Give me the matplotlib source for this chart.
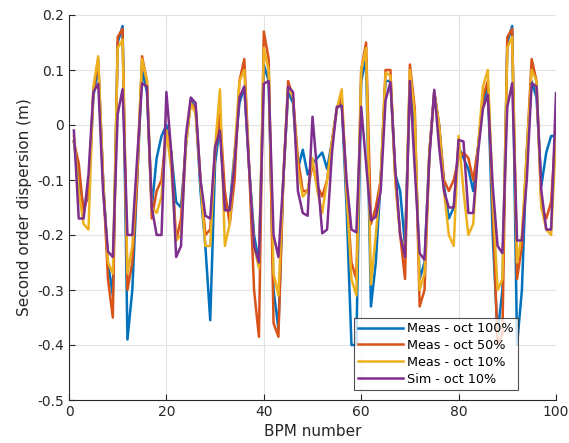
import matplotlib
matplotlib.use("Agg")
import matplotlib.pyplot as plt

plt.rcParams['axes.unicode_minus'] = False
plt.rcParams['font.family'] = 'DejaVu Sans'

bpm = list(range(1, 101))

meas_100 = [-0.03, -0.1, -0.15, -0.13, 0.05, 0.11, -0.1, -0.25, -0.31, 0.15,
            0.18, -0.39, -0.3, -0.1, 0.1, 0.06, -0.15, -0.06, -0.02, 0.0,
            -0.05, -0.14, -0.15, -0.04, 0.045, 0.03, -0.12, -0.22, -0.355, -0.07,
            0.0, -0.15, -0.15, -0.05, 0.04, 0.07, -0.08, -0.2, -0.25, 0.11,
            0.08, -0.3, -0.37, -0.1, 0.06, 0.04, -0.08, -0.045, -0.09, -0.07,
            -0.06, -0.05, -0.08, -0.03, 0.03, 0.04, -0.15, -0.4, -0.4, 0.08,
            0.12, -0.33, -0.25, -0.1, 0.08, 0.08, -0.09, -0.12, -0.22, 0.08,
            0.0, -0.28, -0.25, -0.05, 0.06, 0.0, -0.11, -0.17, -0.15, -0.04,
            -0.06, -0.08, -0.12, -0.04, 0.04, 0.07, -0.2, -0.38, -0.3, 0.15,
            0.18, -0.4, -0.3, -0.05, 0.08, 0.05, -0.11, -0.05, -0.02, -0.02]

meas_50 = [-0.03, -0.07, -0.16, -0.12, 0.06, 0.12, -0.1, -0.28, -0.35, 0.16,
           0.175, -0.3, -0.25, -0.1, 0.125, 0.08, -0.17, -0.12, -0.1, -0.01,
           -0.05, -0.21, -0.17, -0.03, 0.04, 0.03, -0.1, -0.2, -0.19, -0.05,
           0.02, -0.12, -0.18, -0.1, 0.08, 0.12, -0.08, -0.3, -0.385, 0.17,
           0.12, -0.36, -0.385, -0.1, 0.08, 0.05, -0.06, -0.12, -0.12, -0.07,
           -0.11, -0.13, -0.1, -0.03, 0.03, 0.05, -0.12, -0.25, -0.28, 0.1,
           0.15, -0.18, -0.15, -0.1, 0.1, 0.1, -0.1, -0.2, -0.28, 0.11,
           0.03, -0.33, -0.3, -0.05, 0.06, 0.0, -0.1, -0.12, -0.1, -0.06,
           -0.05, -0.06, -0.1, -0.04, 0.05, 0.08, -0.15, -0.4, -0.38, 0.16,
           0.175, -0.28, -0.22, -0.05, 0.12, 0.08, -0.15, -0.17, -0.14, 0.0]

meas_10 = [-0.02, -0.12, -0.18, -0.19, 0.07, 0.125, -0.1, -0.25, -0.27, 0.14,
           0.155, -0.27, -0.22, -0.08, 0.12, 0.08, -0.15, -0.16, -0.13, -0.01,
           -0.08, -0.21, -0.2, -0.04, 0.04, 0.02, -0.1, -0.22, -0.22, -0.04,
           0.065, -0.22, -0.18, -0.05, 0.08, 0.1, -0.08, -0.22, -0.26, 0.14,
           0.1, -0.27, -0.31, -0.1, 0.07, 0.05, -0.08, -0.13, -0.12, -0.06,
           -0.12, -0.16, -0.1, -0.03, 0.03, 0.065, -0.12, -0.28, -0.31, 0.1,
           0.14, -0.29, -0.2, -0.1, 0.095, 0.09, -0.1, -0.2, -0.23, 0.1,
           0.02, -0.3, -0.27, -0.05, 0.06, 0.0, -0.12, -0.2, -0.22, -0.02,
           -0.12, -0.2, -0.18, -0.04, 0.07, 0.1, -0.13, -0.3, -0.28, 0.14,
           0.16, -0.25, -0.2, -0.05, 0.1, 0.08, -0.15, -0.19, -0.2, -0.02]

sim_10 = [-0.01, -0.17, -0.17, -0.09, 0.06, 0.075, -0.12, -0.23, -0.24, 0.02,
          0.065, -0.2, -0.2, -0.06, 0.076, 0.07, -0.15, -0.2, -0.2, 0.06,
          -0.05, -0.24, -0.22, -0.02, 0.05, 0.04, -0.1, -0.165, -0.17, -0.04,
          -0.01, -0.155, -0.155, -0.07, 0.05, 0.07, -0.08, -0.22, -0.25, 0.075,
          0.08, -0.2, -0.24, -0.1, 0.07, 0.06, -0.12, -0.16, -0.165, 0.015,
          -0.09, -0.197, -0.19, -0.05, 0.033, 0.035, -0.1, -0.19, -0.195, 0.033,
          -0.07, -0.173, -0.167, -0.12, 0.045, 0.078, -0.08, -0.2, -0.24, 0.08,
          -0.08, -0.233, -0.245, -0.06, 0.064, -0.04, -0.12, -0.15, -0.15, -0.027,
          -0.03, -0.16, -0.16, -0.05, 0.03, 0.055, -0.11, -0.22, -0.233, 0.033,
          0.076, -0.21, -0.21, -0.1, 0.076, 0.07, -0.12, -0.19, -0.19, 0.058]

labels = ['Meas - oct 100%', 'Meas - oct 50%', 'Meas - oct 10%', 'Sim - oct 10%']
colors = ['#0072BD', '#D95319', '#EDB120', '#7E2F8E']

fig = plt.figure(figsize=(5.69, 4.43), dpi=100)
ax = fig.add_axes([69/569, 43/443, 487/569, 385/443])

for ys, lab, c in zip([meas_100, meas_50, meas_10, sim_10], labels, colors):
    ax.plot(bpm, ys, color=c, lw=1.8, label=lab)

ax.set_xlim(0, 100)
ax.set_ylim(-0.5, 0.2)
ax.set_xticks([0, 20, 40, 60, 80, 100])
ax.set_yticks([-0.5, -0.4, -0.3, -0.2, -0.1, 0, 0.1, 0.2])
ax.set_yticklabels(['-0.5', '-0.4', '-0.3', '-0.2', '-0.1', '0', '0.1', '0.2'])
ax.grid(True, color='#e3e3e3', lw=0.8)
ax.set_axisbelow(True)
for s in ['top', 'right']:
    ax.spines[s].set_visible(False)
for s in ['left', 'bottom']:
    ax.spines[s].set_color('#262626')
    ax.spines[s].set_linewidth(0.8)
ax.tick_params(direction='in', length=4, colors='#262626', labelsize=10)
ax.set_xlabel('BPM number', fontsize=11, color='#262626', labelpad=4)
ax.set_ylabel('Second order dispersion (m)', fontsize=11, color='#262626')

leg = ax.legend(loc='lower right', bbox_to_anchor=(0.922, 0.026), fontsize=9.2,
                frameon=True, fancybox=False, edgecolor='#262626',
                handlelength=3.5, borderpad=0.35, labelspacing=0.3,
                handletextpad=0.3, borderaxespad=0)
leg.get_frame().set_linewidth(0.8)

fig.savefig('out.png', dpi=100)
